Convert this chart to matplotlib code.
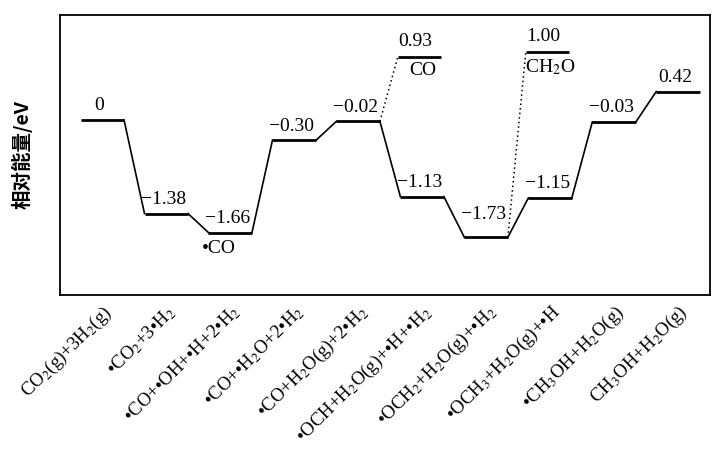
import numpy as np
import matplotlib.pyplot as plt

plt.rcParams['font.family'] = ['Liberation Serif', 'DejaVu Serif']
plt.rcParams['mathtext.fontset'] = 'stix'

# main reaction path
states = [r'CO$_2$(g)+3H$_2$(g)', r'•CO$_2$+3•H$_2$', r'•CO+•OH+•H+2•H$_2$',
          r'•CO+•H$_2$O+2•H$_2$', r'•CO+H$_2$O(g)+2•H$_2$', r'•OCH+H$_2$O(g)+•H+•H$_2$',
          r'•OCH$_2$+H$_2$O(g)+•H$_2$', r'•OCH$_3$+H$_2$O(g)+•H',
          r'•CH$_3$OH+H$_2$O(g)', r'CH$_3$OH+H$_2$O(g)']
energies = [0, -1.38, -1.66, -0.30, -0.02, -1.13, -1.73, -1.15, -0.03, 0.42]
labels = ['0', '−1.38', '−1.66', '−0.30', '−0.02', '−1.13', '−1.73', '−1.15', '−0.03', '0.42']

# side branches (desorption)
branch_from = [4, 6]
branch_energy = [0.93, 1.00]
branch_label = ['0.93', '1.00']
branch_name = ['CO', r'CH$_2$O']

hw = 0.34  # half width of a level
fig, ax = plt.subplots(figsize=(7.15, 4.51), dpi=100)
fig.subplots_adjust(left=0.084, right=0.993, top=0.967, bottom=0.346)

x = np.arange(len(energies))
for i, e in enumerate(energies):
    ax.plot([x[i] - hw, x[i] + hw], [e, e], color='black', lw=2.0, solid_capstyle='butt')
    if i < len(energies) - 1:
        ax.plot([x[i] + hw, x[i + 1] - hw], [e, energies[i + 1]], color='black', lw=1.2)
    dy = 10 if i == 6 else 4
    ax.annotate(labels[i], (x[i], e), xytext=(-2, dy), textcoords='offset points',
                ha='center', va='bottom', fontsize=14)

for j, i in enumerate(branch_from):
    bx = x[i] + 0.96
    ax.plot([bx - hw, bx + hw], [branch_energy[j]] * 2, color='black', lw=2.0, solid_capstyle='butt')
    ax.plot([x[i] + hw, bx - hw], [energies[i], branch_energy[j]], color='black', lw=1.1, ls=(0, (1, 2)))
    ax.annotate(branch_label[j], (bx, branch_energy[j]), xytext=(-3, 5), textcoords='offset points',
                ha='center', va='bottom', fontsize=14)
    ax.annotate(branch_name[j], (bx, branch_energy[j]), xytext=(2, -4), textcoords='offset points',
                ha='center', va='top', fontsize=14)

ax.annotate('•CO', (x[2], energies[2]), xytext=(-8, -5), textcoords='offset points',
            ha='center', va='top', fontsize=14)

ax.set_xlim(-0.66, 9.5)
ax.set_ylim(-2.58, 1.55)
ax.set_xticks(x)
ax.set_xticklabels(states, rotation=45, ha='right', rotation_mode='anchor', fontsize=13.5)
ax.tick_params(length=0, pad=5)
ax.set_yticks([])
ax.set_ylabel('相对能量/eV', family=['Noto Sans CJK SC', 'DejaVu Sans'], fontsize=14,
              fontweight='bold', labelpad=20)
for s in ax.spines.values():
    s.set_linewidth(1.3)

plt.savefig('out.png')
